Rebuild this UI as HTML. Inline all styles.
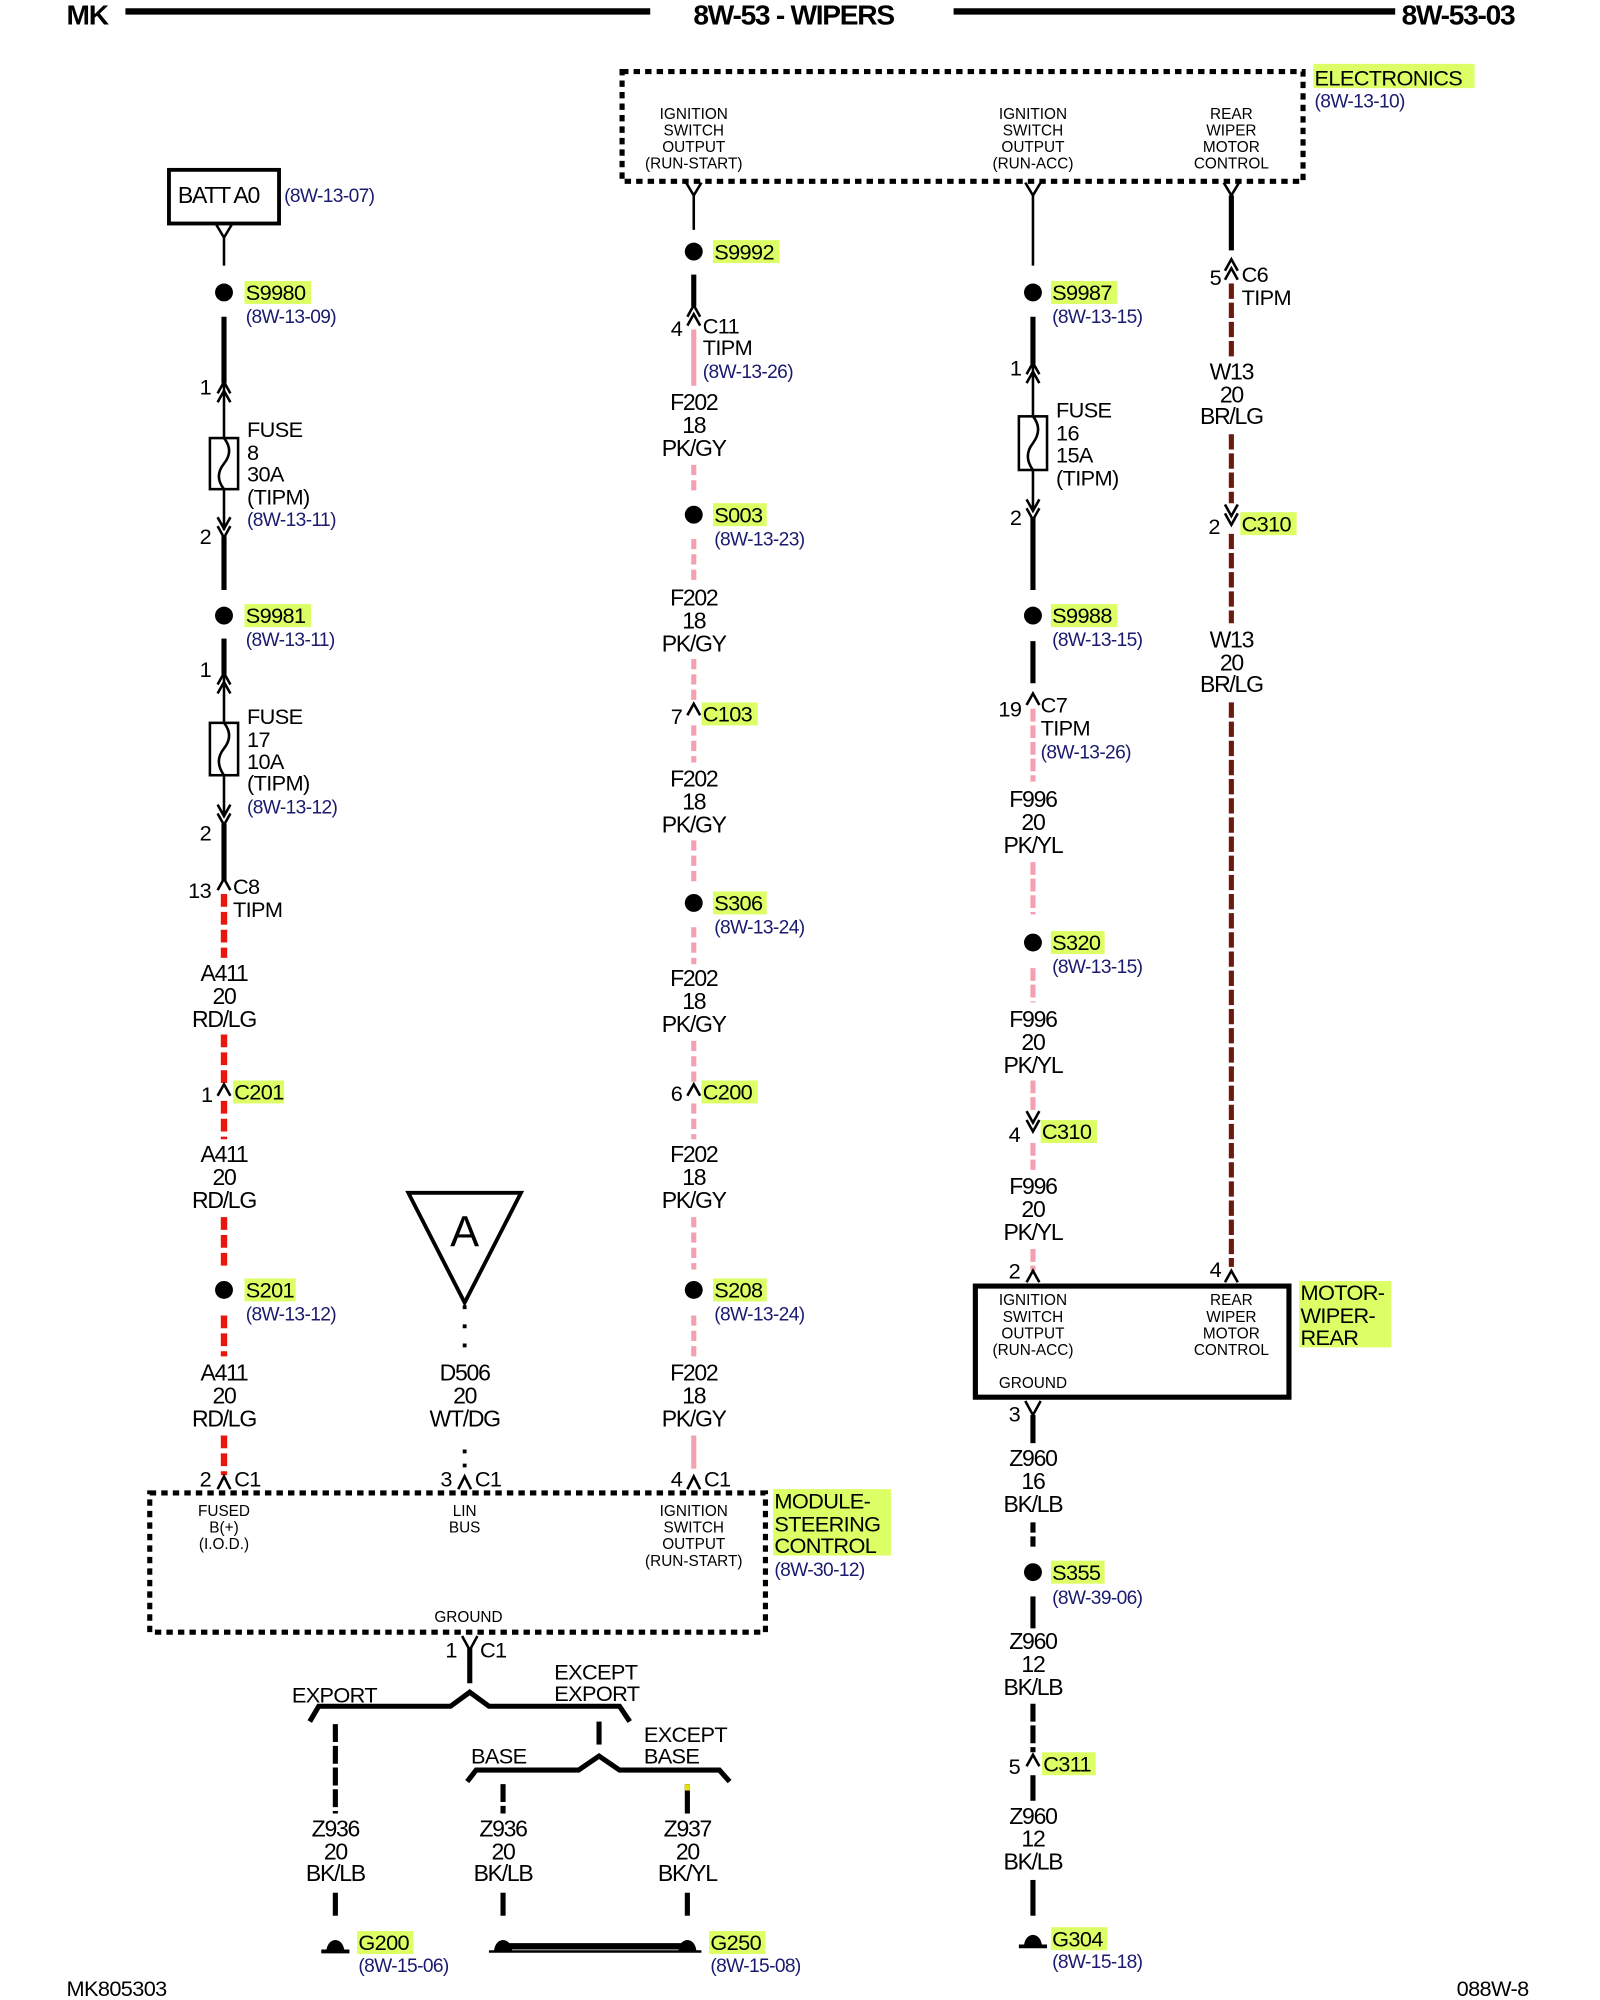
<!DOCTYPE html>
<html><head><meta charset="utf-8"><style>
html,body{margin:0;padding:0;background:#fff}
svg{display:block}
text{font-family:"Liberation Sans",sans-serif;fill:#000}
.l{font-size:18px;letter-spacing:-1px;text-anchor:middle}
.s{font-size:17px;letter-spacing:-0.5px}
.r{font-size:15px;fill:#1a1a6e;letter-spacing:-0.5px}
.p{font-size:12px;text-anchor:middle}
.h{fill:#dcff66}
.bk{stroke:#000;stroke-width:4;fill:none}
.th{stroke:#000;stroke-width:2;fill:none}
.pk{stroke:#f4a0b0;stroke-width:4}
.rd{stroke:#e8160c;stroke-width:5}
.br{stroke:#6b1a10;stroke-width:4}
</style></head><body>
<svg width="1600" height="2000" viewBox="0 0 1250 1566" preserveAspectRatio="none" xmlns="http://www.w3.org/2000/svg">
<!-- header -->
<text x="52" y="19" style="font-size:22px;font-weight:bold;letter-spacing:-1px">MK</text>
<line x1="98" y1="9" x2="508" y2="9" stroke="#000" stroke-width="5"/>
<text x="620" y="19" style="font-size:22px;font-weight:bold;letter-spacing:-1px;text-anchor:middle">8W-53 - WIPERS</text>
<line x1="745" y1="9" x2="1090" y2="9" stroke="#000" stroke-width="5"/>
<text x="1095" y="19" style="font-size:22px;font-weight:bold;letter-spacing:-1px">8W-53-03</text>

<!-- Electronics box -->
<rect x="486" y="56" width="532" height="86" fill="none" stroke="#000" stroke-width="4" stroke-dasharray="5,4"/>
<rect x="1026" y="50" width="126" height="19" class="h"/>
<text x="1027" y="67" class="s">ELECTRONICS</text>
<text x="1027" y="84" class="r">(8W-13-10)</text>
<text class="p" x="542" y="93">IGNITION</text><text class="p" x="542" y="106">SWITCH</text><text class="p" x="542" y="119">OUTPUT</text><text class="p" x="542" y="132">(RUN-START)</text>
<text class="p" x="807" y="93">IGNITION</text><text class="p" x="807" y="106">SWITCH</text><text class="p" x="807" y="119">OUTPUT</text><text class="p" x="807" y="132">(RUN-ACC)</text>
<text class="p" x="962" y="93">REAR</text><text class="p" x="962" y="106">WIPER</text><text class="p" x="962" y="119">MOTOR</text><text class="p" x="962" y="132">CONTROL</text>

<!-- LEFT column -->
<rect x="132" y="133" width="86" height="42" fill="none" stroke="#000" stroke-width="3"/>
<text x="139" y="159" style="font-size:18px;letter-spacing:-1px">BATT A0</text>
<text x="222" y="158" class="r">(8W-13-07)</text>
<path class="th" d="M169 176 L175 186 L181 176 M175 186 V208"/>
<circle cx="175" cy="229" r="7"/>
<rect x="191" y="220" width="52" height="18" class="h"/><text x="192" y="235" class="s">S9980</text>
<text x="192" y="253" class="r">(8W-13-09)</text>
<line class="bk" x1="175" y1="248" x2="175" y2="300"/>
<text x="156" y="309" class="s">1</text>
<path class="th" d="M170 308 L175 299 L180 308 M170 315 L175 306 L180 315 M175 300 V343"/>
<rect x="164" y="343" width="22" height="40" fill="none" stroke="#000" stroke-width="2"/>
<path class="th" d="M175 343 Q183 353 175 363 Q167 373 175 383"/>
<path class="th" d="M175 383 V415 M170 405 L175 414 L180 405 M170 412 L175 421 L180 412"/>
<text x="193" y="342" class="s">FUSE</text><text x="193" y="360" class="s">8</text><text x="193" y="377" class="s">30A</text><text x="193" y="395" class="s">(TIPM)</text>
<text x="193" y="412" class="r">(8W-13-11)</text>
<text x="156" y="426" class="s">2</text>
<line class="bk" x1="175" y1="420" x2="175" y2="462"/>
<circle cx="175" cy="482" r="7"/>
<rect x="191" y="473" width="52" height="18" class="h"/><text x="192" y="488" class="s">S9981</text>
<text x="192" y="506" class="r">(8W-13-11)</text>
<line class="bk" x1="175" y1="500" x2="175" y2="528"/>
<text x="156" y="530" class="s">1</text>
<path class="th" d="M170 536 L175 527 L180 536 M170 543 L175 534 L180 543 M175 528 V565"/>
<rect x="164" y="566" width="22" height="41" fill="none" stroke="#000" stroke-width="2"/>
<path class="th" d="M175 566 Q183 576 175 586 Q167 596 175 607"/>
<path class="th" d="M175 607 V640 M170 630 L175 639 L180 630 M170 637 L175 646 L180 637"/>
<text x="193" y="567" class="s">FUSE</text><text x="193" y="585" class="s">17</text><text x="193" y="602" class="s">10A</text><text x="193" y="619" class="s">(TIPM)</text>
<text x="193" y="637" class="r">(8W-13-12)</text>
<text x="156" y="658" class="s">2</text>
<line class="bk" x1="175" y1="645" x2="175" y2="690"/>
<text x="147" y="703" class="s">13</text>
<path class="th" d="M170 697 L175 688 L180 697"/>
<text x="182" y="700" class="s">C8</text><text x="182" y="718" class="s">TIPM</text>
<line class="rd" x1="175" y1="700" x2="175" y2="750" stroke-dasharray="10,4"/>
<text class="l" x="175" y="768">A411</text><text class="l" x="175" y="786">20</text><text class="l" x="175" y="804">RD/LG</text>
<line class="rd" x1="175" y1="810" x2="175" y2="848" stroke-dasharray="10,4"/>
<text x="157" y="863" class="s">1</text>
<path class="th" d="M170 858 L175 849 L180 858"/>
<rect x="182" y="846" width="40" height="18" class="h"/><text x="183" y="861" class="s">C201</text>
<line class="rd" x1="175" y1="862" x2="175" y2="892" stroke-dasharray="10,4"/>
<text class="l" x="175" y="910">A411</text><text class="l" x="175" y="928">20</text><text class="l" x="175" y="946">RD/LG</text>
<line class="rd" x1="175" y1="953" x2="175" y2="992" stroke-dasharray="10,4"/>
<circle cx="175" cy="1010" r="7"/>
<rect x="191" y="1001" width="40" height="18" class="h"/><text x="192" y="1016" class="s">S201</text>
<text x="192" y="1034" class="r">(8W-13-12)</text>
<line class="rd" x1="175" y1="1030" x2="175" y2="1062" stroke-dasharray="10,4"/>
<text class="l" x="175" y="1081">A411</text><text class="l" x="175" y="1099">20</text><text class="l" x="175" y="1117">RD/LG</text>
<line class="rd" x1="175" y1="1124" x2="175" y2="1155" stroke-dasharray="10,4"/>
<text x="156" y="1164" class="s">2</text>
<path class="th" d="M170 1166 L175 1156 L180 1166"/>
<text x="183" y="1164" class="s">C1</text>

<!-- LIN -->
<path d="M319 934 L407 934 L363 1020 Z" fill="#fff" stroke="#000" stroke-width="3"/>
<text x="363" y="976" style="font-size:34px;text-anchor:middle">A</text>
<line x1="363" y1="1022" x2="363" y2="1062" stroke="#000" stroke-width="3" stroke-dasharray="3,12"/>
<text class="l" x="363" y="1081">D506</text><text class="l" x="363" y="1099">20</text><text class="l" x="363" y="1117">WT/DG</text>
<line x1="363" y1="1135" x2="363" y2="1150" stroke="#000" stroke-width="3" stroke-dasharray="3,8"/>
<text x="344" y="1164" class="s">3</text>
<path class="th" d="M358 1166 L363 1156 L368 1166"/>
<text x="371" y="1164" class="s">C1</text>

<!-- MID -->
<path class="th" d="M536 143 L542 153 L548 143 M542 153 V180"/>
<circle cx="542" cy="197" r="7"/>
<rect x="557" y="188" width="52" height="18" class="h"/><text x="558" y="203" class="s">S9992</text>
<line class="bk" x1="542" y1="215" x2="542" y2="240"/>
<text x="524" y="263" class="s">4</text>
<path class="th" d="M537 248 L542 239 L547 248 M537 255 L542 246 L547 255"/>
<text x="549" y="261" class="s">C11</text><text x="549" y="278" class="s">TIPM</text><text x="549" y="296" class="r">(8W-13-26)</text>
<line class="pk" x1="542" y1="258" x2="542" y2="302"/>
<text class="l" x="542" y="321">F202</text><text class="l" x="542" y="339">18</text><text class="l" x="542" y="357">PK/GY</text>
<line class="pk" x1="542" y1="364" x2="542" y2="384" stroke-dasharray="8,4"/>
<circle cx="542" cy="403" r="7"/>
<rect x="557" y="394" width="42" height="18" class="h"/><text x="558" y="409" class="s">S003</text>
<text x="558" y="427" class="r">(8W-13-23)</text>
<line class="pk" x1="542" y1="422" x2="542" y2="455" stroke-dasharray="8,4"/>
<text class="l" x="542" y="474">F202</text><text class="l" x="542" y="492">18</text><text class="l" x="542" y="510">PK/GY</text>
<line class="pk" x1="542" y1="516" x2="542" y2="552" stroke-dasharray="8,4"/>
<text x="524" y="567" class="s">7</text>
<path class="th" d="M537 560 L542 551 L547 560"/>
<rect x="548" y="550" width="44" height="18" class="h"/><text x="549" y="565" class="s">C103</text>
<line class="pk" x1="542" y1="568" x2="542" y2="597" stroke-dasharray="8,4"/>
<text class="l" x="542" y="616">F202</text><text class="l" x="542" y="634">18</text><text class="l" x="542" y="652">PK/GY</text>
<line class="pk" x1="542" y1="658" x2="542" y2="690" stroke-dasharray="8,4"/>
<circle cx="542" cy="707" r="7"/>
<rect x="557" y="698" width="42" height="18" class="h"/><text x="558" y="713" class="s">S306</text>
<text x="558" y="731" class="r">(8W-13-24)</text>
<line class="pk" x1="542" y1="726" x2="542" y2="755" stroke-dasharray="8,4"/>
<text class="l" x="542" y="772">F202</text><text class="l" x="542" y="790">18</text><text class="l" x="542" y="808">PK/GY</text>
<line class="pk" x1="542" y1="815" x2="542" y2="848" stroke-dasharray="8,4"/>
<text x="524" y="862" class="s">6</text>
<path class="th" d="M537 858 L542 849 L547 858"/>
<rect x="548" y="846" width="44" height="18" class="h"/><text x="549" y="861" class="s">C200</text>
<line class="pk" x1="542" y1="864" x2="542" y2="892" stroke-dasharray="8,4"/>
<text class="l" x="542" y="910">F202</text><text class="l" x="542" y="928">18</text><text class="l" x="542" y="946">PK/GY</text>
<line class="pk" x1="542" y1="953" x2="542" y2="994" stroke-dasharray="8,4"/>
<circle cx="542" cy="1010" r="7"/>
<rect x="557" y="1001" width="42" height="18" class="h"/><text x="558" y="1016" class="s">S208</text>
<text x="558" y="1034" class="r">(8W-13-24)</text>
<line class="pk" x1="542" y1="1030" x2="542" y2="1062" stroke-dasharray="8,4"/>
<text class="l" x="542" y="1081">F202</text><text class="l" x="542" y="1099">18</text><text class="l" x="542" y="1117">PK/GY</text>
<line class="pk" x1="542" y1="1124" x2="542" y2="1150"/>
<text x="524" y="1164" class="s">4</text>
<path class="th" d="M537 1166 L542 1156 L547 1166"/>
<text x="550" y="1164" class="s">C1</text>

<!-- module steering control -->
<rect x="117" y="1169" width="481" height="109" fill="none" stroke="#000" stroke-width="4" stroke-dasharray="5,4"/>
<text class="p" x="175" y="1187">FUSED</text><text class="p" x="175" y="1200">B(+)</text><text class="p" x="175" y="1213">(I.O.D.)</text>
<text class="p" x="363" y="1187">LIN</text><text class="p" x="363" y="1200">BUS</text>
<text class="p" x="542" y="1187">IGNITION</text><text class="p" x="542" y="1200">SWITCH</text><text class="p" x="542" y="1213">OUTPUT</text><text class="p" x="542" y="1226">(RUN-START)</text>
<text class="p" x="366" y="1270">GROUND</text>
<rect x="604" y="1166" width="92" height="52" class="h"/>
<text x="605" y="1181" class="s">MODULE-</text><text x="605" y="1199" class="s">STEERING</text><text x="605" y="1216" class="s">CONTROL</text>
<text x="605" y="1234" class="r">(8W-30-12)</text>
<text x="348" y="1298" class="s">1</text>
<path class="th" d="M361 1281 L367 1292 L373 1281"/>
<text x="375" y="1298" class="s">C1</text>
<line class="bk" x1="367" y1="1290" x2="367" y2="1318"/>
<path d="M242 1348 L249 1336 L352 1336 L367 1325 L382 1336 L484 1336 L492 1348" fill="none" stroke="#000" stroke-width="4"/>
<text x="228" y="1333" class="s">EXPORT</text>
<text x="433" y="1315" class="s">EXCEPT</text><text x="433" y="1332" class="s">EXPORT</text>
<line x1="262" y1="1350" x2="262" y2="1420" stroke="#000" stroke-width="4" stroke-dasharray="14,3"/>
<text class="l" x="262" y="1438">Z936</text><text class="l" x="262" y="1456">20</text><text class="l" x="262" y="1473">BK/LB</text>
<line class="bk" x1="262" y1="1482" x2="262" y2="1500"/>
<path d="M255 1528 A7 9 0 0 1 269 1528 Z" /><line x1="251" y1="1528" x2="273" y2="1528" stroke="#000" stroke-width="3"/>
<rect x="279" y="1512" width="44" height="18" class="h"/><text x="280" y="1527" class="s">G200</text>
<text x="280" y="1544" class="r">(8W-15-06)</text>
<line class="bk" x1="468" y1="1348" x2="468" y2="1366"/>
<path d="M365 1395 L372 1386 L452 1386 L468 1375 L484 1386 L562 1386 L570 1395" fill="none" stroke="#000" stroke-width="4"/>
<text x="368" y="1381" class="s">BASE</text>
<text x="503" y="1364" class="s">EXCEPT</text><text x="503" y="1381" class="s">BASE</text>
<line x1="393" y1="1397" x2="393" y2="1420" stroke="#000" stroke-width="4" stroke-dasharray="14,3"/>
<text class="l" x="393" y="1438">Z936</text><text class="l" x="393" y="1456">20</text><text class="l" x="393" y="1473">BK/LB</text>
<line class="bk" x1="393" y1="1482" x2="393" y2="1500"/>
<line x1="537" y1="1397" x2="537" y2="1420" stroke="#000" stroke-width="4"/>
<line x1="537" y1="1397" x2="537" y2="1402" stroke="#e8e000" stroke-width="4"/>
<text class="l" x="537" y="1438">Z937</text><text class="l" x="537" y="1456">20</text><text class="l" x="537" y="1473">BK/YL</text>
<line class="bk" x1="537" y1="1482" x2="537" y2="1500"/>
<path d="M386 1528 A7 9 0 0 1 400 1528 Z"/><path d="M530 1528 A7 9 0 0 1 544 1528 Z"/>
<line x1="393" y1="1524" x2="537" y2="1524" stroke="#000" stroke-width="5"/>
<line x1="382" y1="1528" x2="548" y2="1528" stroke="#000" stroke-width="2"/>
<rect x="554" y="1512" width="44" height="18" class="h"/><text x="555" y="1527" class="s">G250</text>
<text x="555" y="1544" class="r">(8W-15-08)</text>

<!-- RIGHT column 807 -->
<path class="th" d="M801 143 L807 153 L813 143 M807 153 V208"/>
<circle cx="807" cy="229" r="7"/>
<rect x="821" y="220" width="52" height="18" class="h"/><text x="822" y="235" class="s">S9987</text>
<text x="822" y="253" class="r">(8W-13-15)</text>
<line class="bk" x1="807" y1="248" x2="807" y2="285"/>
<text x="789" y="294" class="s">1</text>
<path class="th" d="M802 293 L807 284 L812 293 M802 300 L807 291 L812 300 M807 285 V325"/>
<rect x="796" y="326" width="22" height="42" fill="none" stroke="#000" stroke-width="2"/>
<path class="th" d="M807 326 Q815 336 807 347 Q799 357 807 368"/>
<path class="th" d="M807 368 V400 M802 391 L807 400 L812 391 M802 398 L807 407 L812 398"/>
<text x="825" y="327" class="s">FUSE</text><text x="825" y="345" class="s">16</text><text x="825" y="362" class="s">15A</text><text x="825" y="380" class="s">(TIPM)</text>
<text x="789" y="411" class="s">2</text>
<line class="bk" x1="807" y1="405" x2="807" y2="462"/>
<circle cx="807" cy="482" r="7"/>
<rect x="821" y="473" width="52" height="18" class="h"/><text x="822" y="488" class="s">S9988</text>
<text x="822" y="506" class="r">(8W-13-15)</text>
<line class="bk" x1="807" y1="502" x2="807" y2="535"/>
<text x="780" y="561" class="s">19</text>
<path class="th" d="M802 552 L807 543 L812 552"/>
<text x="813" y="558" class="s">C7</text><text x="813" y="576" class="s">TIPM</text><text x="813" y="594" class="r">(8W-13-26)</text>
<line class="pk" x1="807" y1="555" x2="807" y2="612" stroke-dasharray="10,3"/>
<text class="l" x="807" y="632">F996</text><text class="l" x="807" y="650">20</text><text class="l" x="807" y="668">PK/YL</text>
<line class="pk" x1="807" y1="675" x2="807" y2="716" stroke-dasharray="10,3"/>
<circle cx="807" cy="738" r="7"/>
<rect x="821" y="729" width="42" height="18" class="h"/><text x="822" y="744" class="s">S320</text>
<text x="822" y="762" class="r">(8W-13-15)</text>
<line class="pk" x1="807" y1="758" x2="807" y2="785" stroke-dasharray="10,3"/>
<text class="l" x="807" y="804">F996</text><text class="l" x="807" y="822">20</text><text class="l" x="807" y="840">PK/YL</text>
<line class="pk" x1="807" y1="846" x2="807" y2="870" stroke-dasharray="10,3"/>
<text x="788" y="894" class="s">4</text>
<path class="th" d="M802 870 L807 879 L812 870 M802 877 L807 886 L812 877"/>
<rect x="813" y="877" width="44" height="18" class="h"/><text x="814" y="892" class="s">C310</text>
<line class="pk" x1="807" y1="895" x2="807" y2="916" stroke-dasharray="10,3"/>
<text class="l" x="807" y="935">F996</text><text class="l" x="807" y="953">20</text><text class="l" x="807" y="971">PK/YL</text>
<line class="pk" x1="807" y1="978" x2="807" y2="995" stroke-dasharray="10,3"/>
<text x="788" y="1001" class="s">2</text>
<path class="th" d="M802 1004 L807 995 L812 1004"/>
<!-- motor box -->
<rect x="762" y="1007" width="245" height="87" fill="none" stroke="#000" stroke-width="4"/>
<text class="p" x="807" y="1022">IGNITION</text><text class="p" x="807" y="1035">SWITCH</text><text class="p" x="807" y="1048">OUTPUT</text><text class="p" x="807" y="1061">(RUN-ACC)</text>
<text class="p" x="962" y="1022">REAR</text><text class="p" x="962" y="1035">WIPER</text><text class="p" x="962" y="1048">MOTOR</text><text class="p" x="962" y="1061">CONTROL</text>
<text class="p" x="807" y="1087">GROUND</text>
<rect x="1015" y="1003" width="72" height="52" class="h"/>
<text x="1016" y="1018" class="s">MOTOR-</text><text x="1016" y="1036" class="s">WIPER-</text><text x="1016" y="1053" class="s">REAR</text>
<text x="788" y="1113" class="s">3</text>
<path class="th" d="M801 1097 L807 1108 L813 1097"/>
<line class="bk" x1="807" y1="1108" x2="807" y2="1130"/>
<text class="l" x="807" y="1148">Z960</text><text class="l" x="807" y="1166">16</text><text class="l" x="807" y="1184">BK/LB</text>
<line class="bk" x1="807" y1="1192" x2="807" y2="1214" stroke-dasharray="8,3"/>
<circle cx="807" cy="1231" r="7"/>
<rect x="821" y="1222" width="42" height="18" class="h"/><text x="822" y="1237" class="s">S355</text>
<text x="822" y="1256" class="r">(8W-39-06)</text>
<line class="bk" x1="807" y1="1250" x2="807" y2="1275"/>
<text class="l" x="807" y="1291">Z960</text><text class="l" x="807" y="1309">12</text><text class="l" x="807" y="1327">BK/LB</text>
<line class="bk" x1="807" y1="1334" x2="807" y2="1372" stroke-dasharray="14,3"/>
<text x="788" y="1389" class="s">5</text>
<path class="th" d="M802 1383 L807 1374 L812 1383"/>
<rect x="814" y="1372" width="42" height="18" class="h"/><text x="815" y="1387" class="s">C311</text>
<line class="bk" x1="807" y1="1390" x2="807" y2="1410"/>
<text class="l" x="807" y="1428">Z960</text><text class="l" x="807" y="1446">12</text><text class="l" x="807" y="1464">BK/LB</text>
<line class="bk" x1="807" y1="1472" x2="807" y2="1500"/>
<path d="M800 1524 A7 9 0 0 1 814 1524 Z"/><line x1="796" y1="1524" x2="818" y2="1524" stroke="#000" stroke-width="3"/>
<rect x="821" y="1509" width="44" height="18" class="h"/><text x="822" y="1524" class="s">G304</text>
<text x="822" y="1541" class="r">(8W-15-18)</text>

<!-- REAR 962 -->
<path class="th" d="M956 143 L962 153 L968 143"/>
<line class="bk" x1="962" y1="153" x2="962" y2="196" stroke-width="5"/>
<text x="945" y="223" class="s">5</text>
<path class="th" d="M957 212 L962 203 L967 212 M957 219 L962 210 L967 219"/>
<text x="970" y="221" class="s">C6</text><text x="970" y="239" class="s">TIPM</text>
<line class="br" x1="962" y1="222" x2="962" y2="282" stroke-dasharray="12,3"/>
<text class="l" x="962" y="297">W13</text><text class="l" x="962" y="315">20</text><text class="l" x="962" y="332">BR/LG</text>
<line class="br" x1="962" y1="340" x2="962" y2="394" stroke-dasharray="12,3"/>
<text x="944" y="418" class="s">2</text>
<path class="th" d="M957 395 L962 404 L967 395 M957 402 L962 411 L967 402"/>
<rect x="969" y="401" width="44" height="18" class="h"/><text x="970" y="416" class="s">C310</text>
<line class="br" x1="962" y1="418" x2="962" y2="488" stroke-dasharray="12,3"/>
<text class="l" x="962" y="507">W13</text><text class="l" x="962" y="525">20</text><text class="l" x="962" y="542">BR/LG</text>
<line class="br" x1="962" y1="550" x2="962" y2="992" stroke-dasharray="12,3"/>
<text x="945" y="1000" class="s">4</text>
<path class="th" d="M957 1004 L962 995 L967 1004"/>

<!-- footer -->
<text x="52" y="1563" class="s">MK805303</text>
<text x="1138" y="1563" class="s">088W-8</text>
</svg>
</body></html>
